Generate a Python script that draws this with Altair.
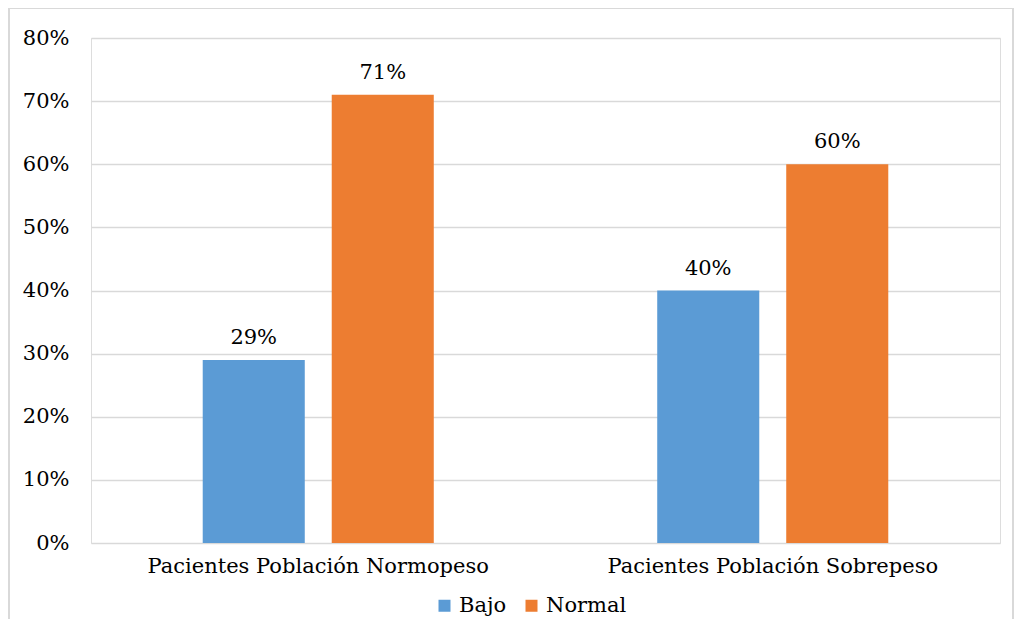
import altair as alt
import pandas as pd

categories = ["Pacientes Población Normopeso", "Pacientes Población Sobrepeso"]
series = ["Bajo", "Normal"]
bajo = [0.29, 0.40]
normal = [0.71, 0.60]

rows = []
for i, c in enumerate(categories):
    rows.append({"cat": c, "serie": "Bajo", "val": bajo[i]})
    rows.append({"cat": c, "serie": "Normal", "val": normal[i]})
df = pd.DataFrame(rows)

FONT = "DejaVu Serif"
FS = 21
W, H = 909, 505

x_enc = alt.X("cat:N", sort=categories, title=None,
              scale=alt.Scale(paddingInner=0, paddingOuter=0),
              axis=alt.Axis(labelAngle=0, ticks=False, domain=False, labelPadding=12, labelLimit=0,
                            labelFontSize=FS, labelFont=FONT, labelColor="#000000"))
xo_enc = alt.XOffset("serie:N", sort=series,
                     scale=alt.Scale(paddingInner=0.209, paddingOuter=0.866))
y_enc = alt.Y("val:Q", title=None,
              scale=alt.Scale(domain=[0, 0.8]),
              axis=alt.Axis(values=[0, 0.1, 0.2, 0.3, 0.4, 0.5, 0.6, 0.7, 0.8], format=".0%",
                            ticks=False, domain=False, labelPadding=22, grid=True,
                            gridColor="#d9d9d9", gridWidth=1.3,
                            labelFontSize=FS, labelFont=FONT, labelColor="#000000"))

color_enc = alt.Color("serie:N", sort=series, title=None,
                      scale=alt.Scale(domain=series, range=["#5B9BD5", "#ED7D31"]),
                      legend=alt.Legend(orient="none", legendX=343, legendY=557, direction="horizontal",
                                        symbolType="square", symbolSize=144, symbolStrokeWidth=0,
                                        labelFontSize=FS, labelFont=FONT, labelColor="#000000",
                                        columnPadding=14, labelOffset=4))

bars = alt.Chart(df).mark_bar().encode(x=x_enc, xOffset=xo_enc, y=y_enc, color=color_enc)

labels = alt.Chart(df).mark_text(baseline="bottom", dy=-12, fontSize=FS, font=FONT, color="#000000").encode(
    x=alt.X("cat:N", sort=categories), xOffset=alt.XOffset("serie:N", sort=series),
    y="val:Q", text=alt.Text("val:Q", format=".0%"))

frame = alt.Chart(pd.DataFrame({"k": [0]})).mark_rect(fill=None, stroke="#d9d9d9", strokeWidth=2).encode(
    x=alt.value(-82), x2=alt.value(922), y=alt.value(-30), y2=alt.value(600))

chart = alt.layer(frame, bars, labels).properties(
    width=W, height=H,
    autosize=alt.AutoSizeParams(type="none"),
    padding={"left": 83, "top": 30, "right": 14, "bottom": 76},
).configure_view(stroke=None).configure(background="white", font=FONT)

chart.save("out.html", embed_options={"renderer": "svg", "actions": False})
